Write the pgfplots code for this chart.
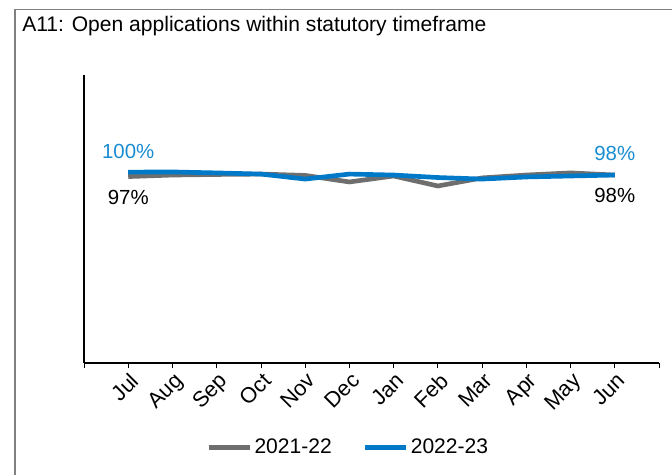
\documentclass[border=0pt]{standalone}
\usepackage{fontspec}
\setmainfont{Liberation Sans}
\usepackage{pgfplots}
\pgfplotsset{compat=1.18}
\definecolor{greyline}{RGB}{110,110,110}
\definecolor{blueline}{RGB}{0,122,200}
\definecolor{bluelabel}{RGB}{25,140,210}
\begin{document}
\begin{tikzpicture}
\useasboundingbox (0pt,0pt) rectangle (504pt,356.25pt);
\draw[gray, line width=0.9pt] (11.25pt,-7.5pt) -- (11.25pt,349.1pt) -- (517.5pt,349.1pt);
\node[anchor=base west, inner sep=0, font=\fontsize{15.8}{18}\selectfont] at (16.5pt,332.25pt) {A11: Open applications within statutory timeframe};
\begin{axis}[
  at={(63pt,84pt)}, anchor=south west,
  width=431.25pt, height=216pt, scale only axis,
  xmin=0, xmax=13, ymin=0, ymax=150,
  axis x line=bottom, axis y line=left,
  axis line style={-, line width=1.5pt, black},
  ytick=\empty,
  xtick={0,...,13},
  xticklabels={,Jul,Aug,Sep,Oct,Nov,Dec,Jan,Feb,Mar,Apr,May,Jun,},
  tick align=outside,
  major tick length=4pt,
  xtick style={black, line width=0.6pt},
  xticklabel style={rotate=45, anchor=north east, inner sep=1pt, yshift=-1pt, font=\fontsize{16.3}{18}\selectfont},
  clip=false,
  legend columns=2,
  legend style={draw=none, fill=none, at={(axis description cs:0.212,-0.293)}, anchor=west,
    font=\fontsize{15.8}{18}\selectfont, inner sep=0pt,
    /tikz/every even column/.append style={column sep=21pt}},
  legend image code/.code={\draw[#1] (0pt,0pt) -- (30.75pt,0pt);},
]
\addplot[greyline, line width=3.5pt, line join=round] coordinates {(1,97.1) (2,97.9) (3,98.2) (4,98.4) (5,97.7) (6,94.3) (7,97.4) (8,92.2) (9,96.4) (10,97.9) (11,99.0) (12,97.9)};
\addlegendentry{2021-22}
\addplot[blueline, line width=3.5pt, line join=round] coordinates {(1,99.4) (2,99.5) (3,99.0) (4,98.4) (5,95.8) (6,98.4) (7,97.9) (8,96.6) (9,95.8) (10,96.9) (11,97.4) (12,97.9)};
\addlegendentry{2022-23}
\node[bluelabel, font=\fontsize{15.3}{17}\selectfont] at (axis cs:1,110) {100\%};
\node[black, font=\fontsize{15.3}{17}\selectfont] at (axis cs:1,86) {97\%};
\node[bluelabel, font=\fontsize{15.3}{17}\selectfont] at (axis cs:12,109) {98\%};
\node[black, font=\fontsize{15.3}{17}\selectfont] at (axis cs:12,87) {98\%};
\end{axis}
\end{tikzpicture}
\end{document}
